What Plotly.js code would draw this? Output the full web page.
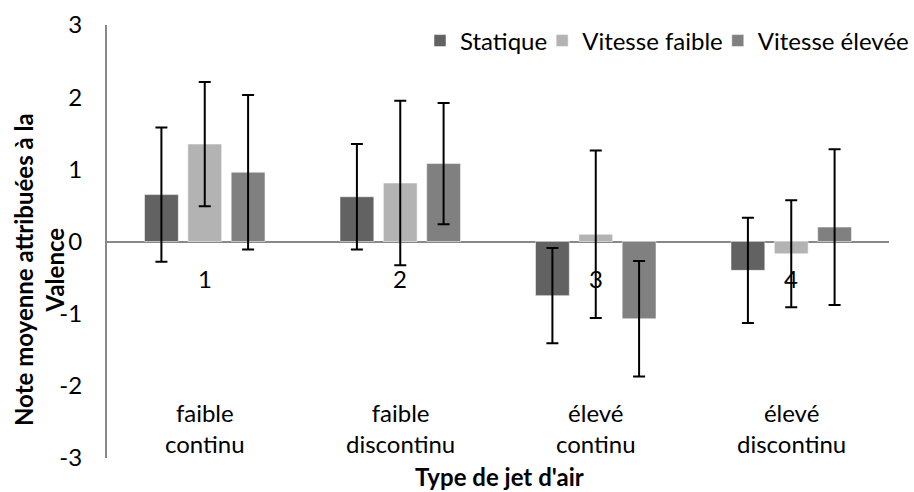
<!DOCTYPE html>
<html>
<head>
<meta charset="utf-8">
<script src="https://cdn.plot.ly/plotly-3.0.1.min.js"></script>
<style>html,body{margin:0;padding:0;background:#fff;}#chart{width:914px;height:492px;}</style>
</head>
<body>
<div id="chart"></div>
<script>
const categoryIds = ["1", "2", "3", "4"];
const categoryLabels = ["faible<br>continu", "faible<br>discontinu", "élevé<br>continu", "élevé<br>discontinu"];
const seriesNames = ["Statique", "Vitesse faible", "Vitesse élevée"];
const statique = [0.65, 0.62, -0.75, -0.40];
const statiqueErr = [0.93, 0.73, 0.66, 0.73];
const vitesseFaible = [1.35, 0.81, 0.10, -0.17];
const vitesseFaibleErr = [0.86, 1.14, 1.16, 0.74];
const vitesseElevee = [0.96, 1.08, -1.07, 0.20];
const vitesseEleveeErr = [1.07, 0.84, 0.80, 1.08];
const yTickVals = [-3, -2, -1, 0, 1, 2, 3];
const yTickText = ["-3", "-2", "-1", "0", "1", "2", "3"];
const xTitle = "Type de jet d'air";
const yTitle = "Note moyenne attribuées à la<br>Valence";

const FONT = "Lato, 'Noto Sans', sans-serif";
const colors = ["#626262", "#b3b3b3", "#808080"];
const values = [statique, vitesseFaible, vitesseElevee];
const errs = [statiqueErr, vitesseFaibleErr, vitesseEleveeErr];

const W = 914, H = 492, ML = 107, MR = 0, MT = 25, MB = 34;
const plotRight = 889;
const gsW = W - ML - MR, gsH = H - MT - MB;
const px2x = p => (p - ML) / gsW;
const px2y = p => (H - MB - p) / gsH;

const traces = seriesNames.map((name, i) => ({
  type: "bar",
  name: name,
  x: categoryIds,
  y: values[i],
  marker: {color: colors[i], line: {color: "rgba(255,255,255,0.5)", width: 1}},
  error_y: {type: "data", array: errs[i], visible: true, color: "#000", thickness: 2, width: 6}
}));

const annotations = [];
categoryIds.forEach((c, i) => {
  annotations.push({x: i, y: 0, xref: "x", yref: "y", text: c, showarrow: false,
    yshift: -37, font: {family: FONT, size: 24, color: "#000"}});
  annotations.push({x: i, y: -2.58, xref: "x", yref: "y", text: categoryLabels[i], showarrow: false,
    align: "center", font: {family: FONT, size: 24, color: "#000"}});
});
annotations.push({x: px2x(499), y: px2y(476), xref: "paper", yref: "paper", xanchor: "center", yanchor: "middle",
  text: "<b>" + xTitle + "</b>", showarrow: false, font: {family: FONT, size: 24, color: "#000"}});
annotations.push({x: px2x(39), y: px2y(270), xref: "paper", yref: "paper", xanchor: "center", yanchor: "middle",
  text: "<b>" + yTitle + "</b>", textangle: -90, showarrow: false, font: {family: FONT, size: 24, color: "#000"}});

const layout = {
  width: W, height: H,
  margin: {l: ML, r: MR, t: MT, b: MB},
  paper_bgcolor: "#fff", plot_bgcolor: "#fff",
  barmode: "group", bargap: 0.335, bargroupgap: 0.22,
  showlegend: true,
  legend: {orientation: "h", x: 1, xanchor: "right", y: px2y(41), yanchor: "middle", indentation: -10,
    font: {family: FONT, size: 24, color: "#000"}, itemwidth: 30, tracegroupgap: 0, bgcolor: "rgba(0,0,0,0)"},
  xaxis: {type: "category", domain: [0, (plotRight - ML) / gsW], showticklabels: false, showline: false,
    showgrid: false, zeroline: false, ticks: "", fixedrange: true},
  yaxis: {range: [-3, 3], tickvals: yTickVals, ticktext: yTickText, showgrid: false, zeroline: true,
    zerolinecolor: "#888", zerolinewidth: 2, showline: true, linecolor: "#888", linewidth: 2, ticks: "",
    ticklabelstandoff: 18, tickfont: {family: FONT, size: 24, color: "#000"}, fixedrange: true},
  font: {family: FONT, color: "#000"},
  annotations: annotations
};

Plotly.newPlot("chart", traces, layout, {displayModeBar: false, staticPlot: true});
</script>
</body>
</html>
